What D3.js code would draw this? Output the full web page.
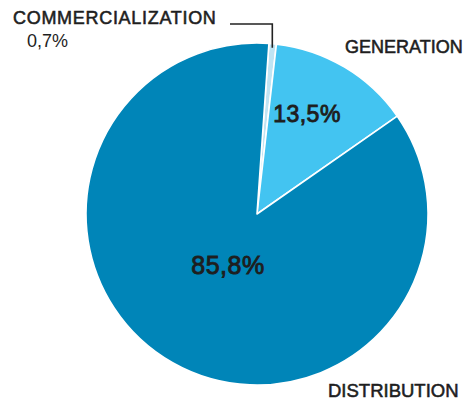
<!DOCTYPE html>
<html>
<head>
<meta charset="utf-8">
<script src="https://cdn.jsdelivr.net/npm/d3@7"></script>
<style>
  html, body { margin: 0; padding: 0; background: #fff; }
  svg { display: block; }
  text { font-family: "Liberation Sans", Arial, sans-serif; fill: #1e1e1e; }
  .lbl { stroke: #1e1e1e; stroke-width: 0.55; }
  .pct { stroke: #1e1e1e; stroke-width: 0.9; }
</style>
</head>
<body>
<svg id="chart" width="470" height="402"></svg>
<script>
// Share of the value chain by segment (percent)
const categories = ["COMMERCIALIZATION", "GENERATION", "DISTRIBUTION"];
const values = [0.7, 13.5, 85.8];
const valueLabels = ["0,7%", "13,5%", "85,8%"];
const colors = ["#bfe4f3", "#43c4f1", "#0085b8"];

const svg = d3.select("#chart");
const cx = 257, cy = 214, radius = 171;
const startOffset = 4 * Math.PI / 180;

const pie = d3.pie().sort(null).value(d => d)
  .startAngle(startOffset).endAngle(startOffset + 2 * Math.PI);
const arcs = pie(values);
const arc = d3.arc().innerRadius(0).outerRadius(radius);

const g = svg.append("g").attr("transform", `translate(${cx},${cy})`);

g.selectAll("path.slice")
  .data(arcs)
  .join("path")
  .attr("class", "slice")
  .attr("d", arc)
  .attr("fill", (d, i) => colors[i])
  .attr("stroke", "#fff")
  .attr("stroke-width", 1.6)
  .attr("stroke-linejoin", "round");

// Leader line for the thin commercialization slice
const c = arcs[0];
const mid = (c.startAngle + c.endAngle) / 2;
const px = cx + Math.sin(mid) * (radius - 4);
const py = cy - Math.cos(mid) * (radius - 4);
svg.append("path")
  .attr("d", `M${px},${py} L${px},24 L230,24`)
  .attr("fill", "none")
  .attr("stroke", "#222")
  .attr("stroke-width", 1.6);

// Category names
svg.append("text").attr("class", "lbl").attr("x", 13).attr("y", 24)
  .attr("font-size", 18).attr("letter-spacing", 0.7)
  .text(categories[0]);
svg.append("text").attr("x", 27).attr("y", 47)
  .attr("font-size", 18).attr("fill", "#2a2a2a")
  .text(valueLabels[0]);
svg.append("text").attr("class", "lbl").attr("x", 345).attr("y", 53)
  .attr("font-size", 18)
  .text(categories[1]);
svg.append("text").attr("class", "lbl").attr("x", 328).attr("y", 397)
  .attr("font-size", 18.5)
  .text(categories[2]);

// Percentages inside the slices
svg.append("text").attr("class", "pct").attr("x", 307).attr("y", 122)
  .attr("text-anchor", "middle")
  .attr("font-size", 23).attr("letter-spacing", 0.5)
  .text(valueLabels[1]);
svg.append("text").attr("class", "pct").attr("x", 228).attr("y", 274)
  .attr("text-anchor", "middle")
  .attr("font-size", 25).attr("letter-spacing", 0.5)
  .text(valueLabels[2]);
</script>
</body>
</html>
